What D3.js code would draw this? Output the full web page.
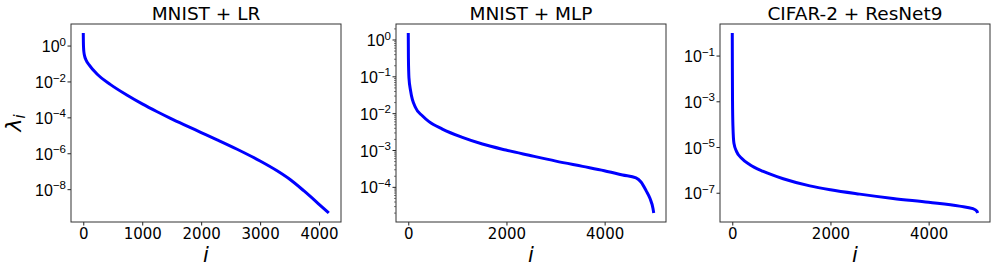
<!DOCTYPE html>
<html>
<head>
<meta charset="utf-8">
<script src="https://cdn.jsdelivr.net/npm/d3@7"></script>
<style>
  body { margin: 0; background: #fff; }
  svg { font-family: "DejaVu Sans", sans-serif; }
</style>
</head>
<body>
<div id="chart"></div>
<script>
// panel titles
const titles = ["MNIST + LR", "MNIST + MLP", "CIFAR-2 + ResNet9"];

// eigenvalue spectra (index i, lambda_i)
const lrIndex = [0, 2, 5, 12, 23, 50, 96, 237, 463, 746, 1000, 1254, 1480, 1706, 2000, 2271, 2610, 3000, 3288, 3514, 3740, 4000, 4164];
const lrLambda = [5.0, 1.5, 0.74, 0.4, 0.26, 0.15, 0.087, 0.025, 6.68e-3, 1.70e-3, 5.6e-4, 2.05e-4, 8.8e-5, 3.94e-5, 1.43e-5, 5.6e-6, 1.67e-6, 3.69e-7, 1.05e-7, 3.33e-8, 8.2e-9, 1.44e-9, 4.7e-10];

const mlpIndex = [0, 3, 14, 48, 150, 286, 422, 694, 1102, 1510, 1986, 2463, 3007, 3551, 3993, 4367, 4639, 4741, 4844, 4925, 4985, 5000];
const mlpLambda = [1.5, 0.32, 0.091, 0.040, 0.014, 8.5e-3, 5.9e-3, 3.7e-3, 2.2e-3, 1.45e-3, 1.0e-3, 7.2e-4, 5.0e-4, 3.6e-4, 2.75e-4, 2.1e-4, 1.75e-4, 1.35e-4, 7.9e-5, 4.8e-5, 2.6e-5, 1.95e-5];

const resIndex = [0, 2, 5, 14, 34, 88, 190, 359, 631, 1037, 1580, 2000, 2597, 3275, 4000, 4630, 4902, 4983, 5000];
const resLambda = [0.97, 0.031, 1.1e-3, 7.6e-5, 1.45e-5, 6.3e-6, 3.2e-6, 1.66e-6, 8.5e-7, 4.1e-7, 2.0e-7, 1.35e-7, 8.7e-8, 5.6e-8, 3.8e-8, 2.6e-8, 2.0e-8, 1.55e-8, 1.3e-8];

// tick values
const xTicks = [[0, 1000, 2000, 3000, 4000], [0, 2000, 4000], [0, 2000, 4000]];
const yTickExps = [[0, -2, -4, -6, -8], [0, -1, -2, -3, -4], [-1, -3, -5, -7]];

const series = [
  {index: lrIndex, lambda: lrLambda},
  {index: mlpIndex, lambda: mlpLambda},
  {index: resIndex, lambda: resLambda}
];

// layout
const W = 996, H = 272;
const panelLeft = [71, 396, 720];
const panelW = 270;
const panelTop = 24, panelH = 198;

const svg = d3.select("#chart").append("svg")
  .attr("width", W)
  .attr("height", H);

// matplotlib-like 5% margins
function padLinear(ext) {
  const p = (ext[1] - ext[0]) * 0.05;
  return [ext[0] - p, ext[1] + p];
}
function padLog(ext) {
  const a = Math.log10(ext[0]), b = Math.log10(ext[1]);
  const p = (b - a) * 0.05;
  return [Math.pow(10, a - p), Math.pow(10, b + p)];
}

series.forEach((s, k) => {
  const data = s.index.map((d, j) => ({i: d, v: s.lambda[j]}));

  const g = svg.append("g")
    .attr("transform", `translate(${panelLeft[k]}, ${panelTop})`);

  const x = d3.scaleLinear()
    .domain(padLinear(d3.extent(s.index)))
    .range([0, panelW]);

  const y = d3.scaleLog()
    .domain(padLog(d3.extent(s.lambda)))
    .range([panelH, 0]);

  // x axis
  const xa = g.append("g")
    .attr("transform", `translate(0, ${panelH})`)
    .call(d3.axisBottom(x).tickValues(xTicks[k]).tickSize(3.5).tickPadding(3).tickFormat(d3.format("d")));
  xa.select(".domain").remove();
  xa.selectAll(".tick line").attr("stroke", "#222");
  xa.selectAll(".tick text")
    .attr("font-size", "15px")
    .attr("fill", "#000")
    .attr("font-family", "DejaVu Sans");

  // minor log ticks (only the narrow-range panel has them)
  if (k === 1) {
    const minor = [];
    for (let e = -5; e <= 0; e++) {
      for (let m = 2; m <= 9; m++) {
        const v = m * Math.pow(10, e);
        if (v >= y.domain()[0] && v <= y.domain()[1]) minor.push(v);
      }
    }
    const ma = g.append("g")
      .call(d3.axisLeft(y).tickValues(minor).tickSize(2).tickFormat(""));
    ma.select(".domain").remove();
    ma.selectAll(".tick line").attr("stroke", "#222").attr("stroke-width", 0.6);
  }

  // y axis with 10^n labels
  const ya = g.append("g")
    .call(d3.axisLeft(y)
      .tickValues(yTickExps[k].map(e => Math.pow(10, e)))
      .tickSize(3.5).tickPadding(2).tickFormat(""));
  ya.select(".domain").remove();
  ya.selectAll(".tick line").attr("stroke", "#222");
  ya.selectAll(".tick").each(function(d) {
    const e = Math.round(Math.log10(d));
    const t = d3.select(this).append("text")
      .attr("x", -5)
      .attr("dy", "0.38em")
      .attr("text-anchor", "end")
      .attr("font-size", "16px")
      .attr("fill", "#000");
    t.append("tspan").text("10");
    t.append("tspan")
      .attr("font-size", "11.5px")
      .attr("dy", "-6.5")
      .text(e < 0 ? "\u2212" + (-e) : String(e));
  });

  // the spectrum
  const line = d3.line()
    .x(d => x(d.i))
    .y(d => y(d.v))
    .curve(d3.curveMonotoneX);

  g.append("path")
    .datum(data)
    .attr("fill", "none")
    .attr("stroke", "#0000ff")
    .attr("stroke-width", 3)
    .attr("stroke-linejoin", "round")
    .attr("stroke-linecap", "butt")
    .attr("d", line);

  // frame
  g.append("rect")
    .attr("x", 0)
    .attr("y", 0)
    .attr("width", panelW)
    .attr("height", panelH)
    .attr("fill", "none")
    .attr("stroke", "#333")
    .attr("stroke-width", 1);

  // title
  g.append("text")
    .attr("x", panelW / 2)
    .attr("y", -4)
    .attr("text-anchor", "middle")
    .attr("font-size", "18.5px")
    .attr("fill", "#000")
    .text(titles[k]);

  // x label
  g.append("text")
    .attr("x", panelW / 2)
    .attr("y", panelH + 40)
    .attr("text-anchor", "middle")
    .attr("font-size", "21px")
    .attr("font-style", "italic")
    .attr("fill", "#000")
    .text("i");
});

// y label on the first panel
const yl = svg.append("text")
  .attr("transform", `translate(21, ${panelTop + panelH / 2}) rotate(-90)`)
  .attr("text-anchor", "middle")
  .attr("font-size", "22px")
  .attr("font-style", "italic")
  .attr("fill", "#000");
yl.append("tspan").text("\u03bb");
yl.append("tspan").attr("font-size", "15px").attr("dy", "4").text("i");
</script>
</body>
</html>
